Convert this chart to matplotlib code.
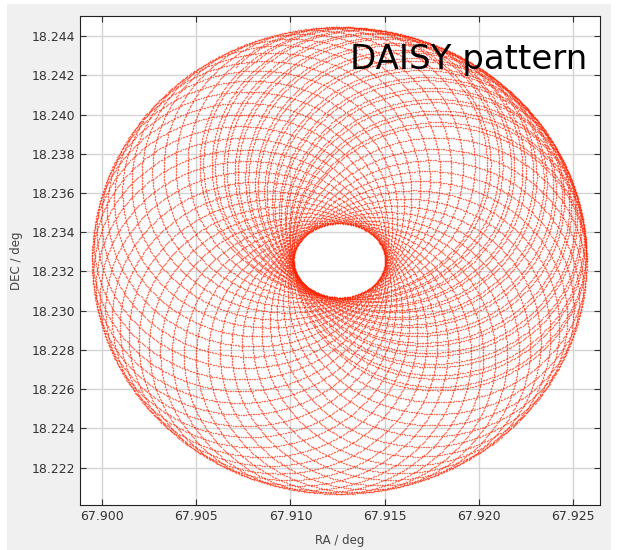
import numpy as np
import matplotlib.pyplot as plt
from matplotlib.patches import Rectangle

# scan pattern parameters (deg)
ra0, dec0 = 67.91259, 18.23256      # pattern centre
ra_outer, dec_outer = 0.01312, 0.01190   # outer half-extent
ra_inner, dec_inner = 0.00243, 0.00189   # half-extent of the central hole
n_loops = 52.3                       # scan circles per revolution of the offset
n_revs = 1.25                        # revolutions of the offset in the run
n_samples = 36000

xticks = [67.900, 67.905, 67.910, 67.915, 67.920, 67.925]
yticks = [18.222, 18.224, 18.226, 18.228, 18.230, 18.232,
          18.234, 18.236, 18.238, 18.240, 18.242, 18.244]

# large scan circle whose centre drifts on a small circle:
# rim at r_scan + r_off, hole at r_scan - r_off
ra_scan = (ra_outer + ra_inner) / 2
ra_off = (ra_outer - ra_inner) / 2
dec_scan = (dec_outer + dec_inner) / 2
dec_off = (dec_outer - dec_inner) / 2

t = np.linspace(0, 2 * np.pi * n_revs, n_samples)
ra = ra0 + ra_off * np.cos(t) + ra_scan * np.cos(n_loops * t)
dec = dec0 + dec_off * np.sin(t) + dec_scan * np.sin(n_loops * t)

fig = plt.figure(figsize=(6.18, 5.5), dpi=100)
fig.patch.set_facecolor('white')
fig.patches.append(Rectangle((7 / 618, 0), 604 / 618, 546 / 550,
                             transform=fig.transFigure, facecolor='#f0f0f0',
                             edgecolor='none', zorder=-10))

ax = fig.add_axes([80 / 618, 1 - 505 / 550, 520 / 618, 489 / 550])
ax.set_facecolor('white')
ax.plot(ra, dec, linestyle='none', marker='o', markersize=1.1,
        markeredgewidth=0, color='#ff2200', alpha=0.6)

ax.set_xlim(67.89884, 67.92641)
ax.set_ylim(18.2201, 18.24502)
ax.set_xticks(xticks)
ax.set_yticks(yticks)
ax.set_xticklabels([f'{v:.3f}' for v in xticks])
ax.set_yticklabels([f'{v:.3f}' for v in yticks])
ax.grid(True, color='#d4d4d4', linewidth=1)
ax.set_axisbelow(True)
ax.tick_params(axis='both', labelsize=9, labelcolor='#333333', color='#333333',
               length=4, direction='in', top=True, right=True)
for sp in ax.spines.values():
    sp.set_color('#222222')

ax.set_xlabel('RA / deg', fontsize=8.5, color='#444444', labelpad=8)
ax.set_ylabel('DEC / deg', fontsize=8.5, color='#444444', labelpad=6)

ax.text(0.975, 0.945, 'DAISY pattern', transform=ax.transAxes,
        ha='right', va='top', fontsize=24.5, color='black')

fig.savefig('out.png', dpi=100, facecolor=fig.get_facecolor())
